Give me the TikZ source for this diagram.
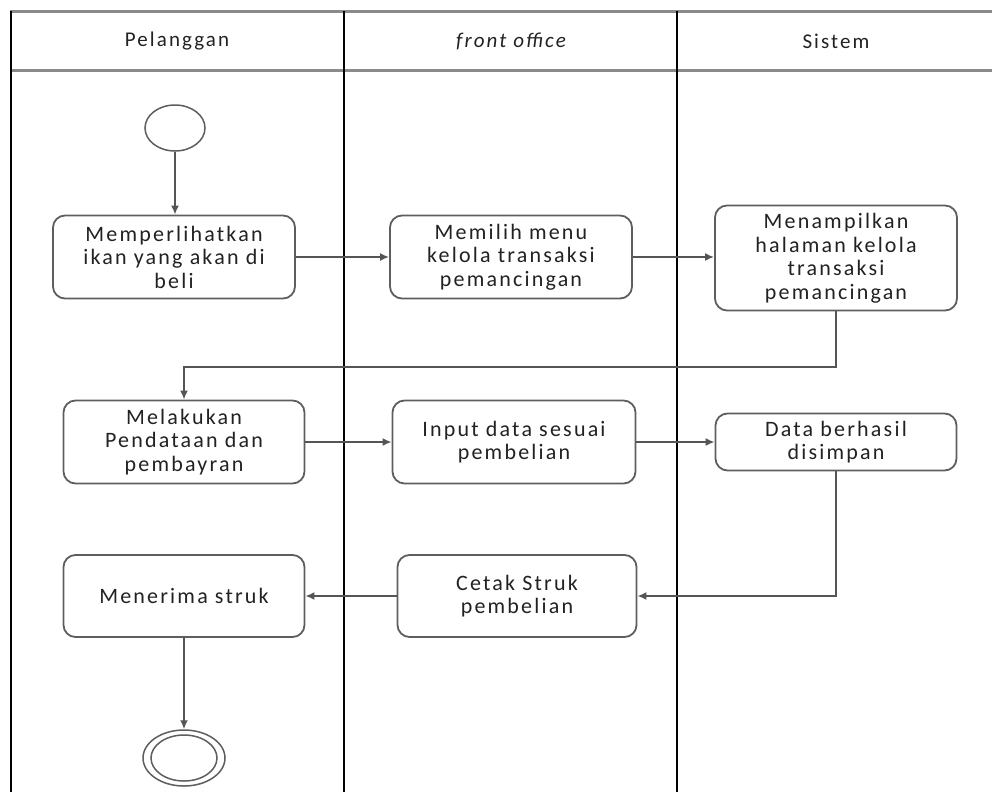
\documentclass[tikz,border=0pt]{standalone}
\usepackage{fontspec}
\setmainfont{Carlito}[LetterSpace=10]
\usetikzlibrary{arrows.meta,shapes.geometric}
\definecolor{boxline}{HTML}{5E5E5E}
\definecolor{flowline}{HTML}{555555}
\definecolor{headline}{HTML}{8A8A8A}
\definecolor{txt}{HTML}{222222}
\tikzset{
  act/.style={draw=boxline, line width=1.8pt, rounded corners=12pt, fill=white,
    align=center, text=txt, inner sep=0pt,
    font=\fontsize{22}{23.5}\selectfont},
  flow/.style={draw=flowline, line width=1.8pt, -{Latex[length=9pt,width=8pt]}},
  lane/.style={draw=black, line width=1.2pt},
  head/.style={draw=headline, line width=3pt},
  headtxt/.style={text=txt, font=\fontsize{21}{22}\selectfont},
  startnode/.style={draw=boxline, line width=1.5pt, ellipse, fill=white}
}
\begin{document}
\begin{tikzpicture}[x=1pt,y=-1pt]
\useasboundingbox (0,0) rectangle (992,792);
% swimlane frame
\draw[head] (10,12) -- (992,12);
\draw[head] (10,70) -- (992,70);
\draw[lane] (11,11) -- (11,792);
\draw[lane] (344,11) -- (344,792);
\draw[lane] (677,11) -- (677,792);
\node[headtxt] (h1) at (177,41) {Pelanggan};
\node[headtxt] (h2) at (511,41) {\itshape front office};
\node[headtxt] (h3) at (836,41) {Sistem};

% start node
\node[startnode, minimum width=60pt, minimum height=46pt] (start) at (175,128) {};

% activities
\node[act, minimum width=242pt, minimum height=83pt] (b1) at (174,257)
  {Memperlihatkan\\ikan yang akan di\\beli};
\node[act, minimum width=242pt, minimum height=83pt] (b2) at (511,257)
  {Memilih menu\\kelola transaksi\\pemancingan};
\node[act, minimum width=242pt, minimum height=105pt] (b3) at (836,258)
  {Menampilkan\\halaman kelola\\transaksi\\pemancingan};
\node[act, minimum width=241pt, minimum height=83pt] (b4) at (184,442)
  {Melakukan\\Pendataan dan\\pembayran};
\node[act, minimum width=243pt, minimum height=83pt] (b5) at (514,442)
  {Input data sesuai\\pembelian};
\node[act, minimum width=241pt, minimum height=57pt] (b6) at (836,442)
  {Data berhasil\\disimpan};
\node[act, minimum width=239pt, minimum height=82pt] (b7) at (517,596)
  {Cetak Struk\\pembelian};
\node[act, minimum width=241pt, minimum height=82pt] (b8) at (184,596)
  {Menerima struk};

% final node
\node[startnode, minimum width=82pt, minimum height=56pt] (final) at (184,758) {};
\node[draw=boxline, line width=1.5pt, ellipse, minimum width=66pt, minimum height=46pt] (finalin) at (final.center) {};

% control flow
\draw[flow] (start.south) -- (b1.north -| start.south);
\draw[flow] (b1.east) -- (b2.west);
\draw[flow] (b2.east) -- (b3.west |- b2.east);
\coordinate (loopA) at (b3.south |- 0,367);
\draw[flow] (b3.south) -- (loopA) -- (loopA -| b4.north) -- (b4.north);
\draw[flow] (b4.east) -- (b5.west);
\draw[flow] (b5.east) -- (b6.west);
\draw[flow] (b6.south) -- (b6.south |- b7.east) -- (b7.east);
\draw[flow] (b7.west) -- (b8.east);
\draw[flow] (b8.south) -- (final.north);
\end{tikzpicture}
\end{document}
